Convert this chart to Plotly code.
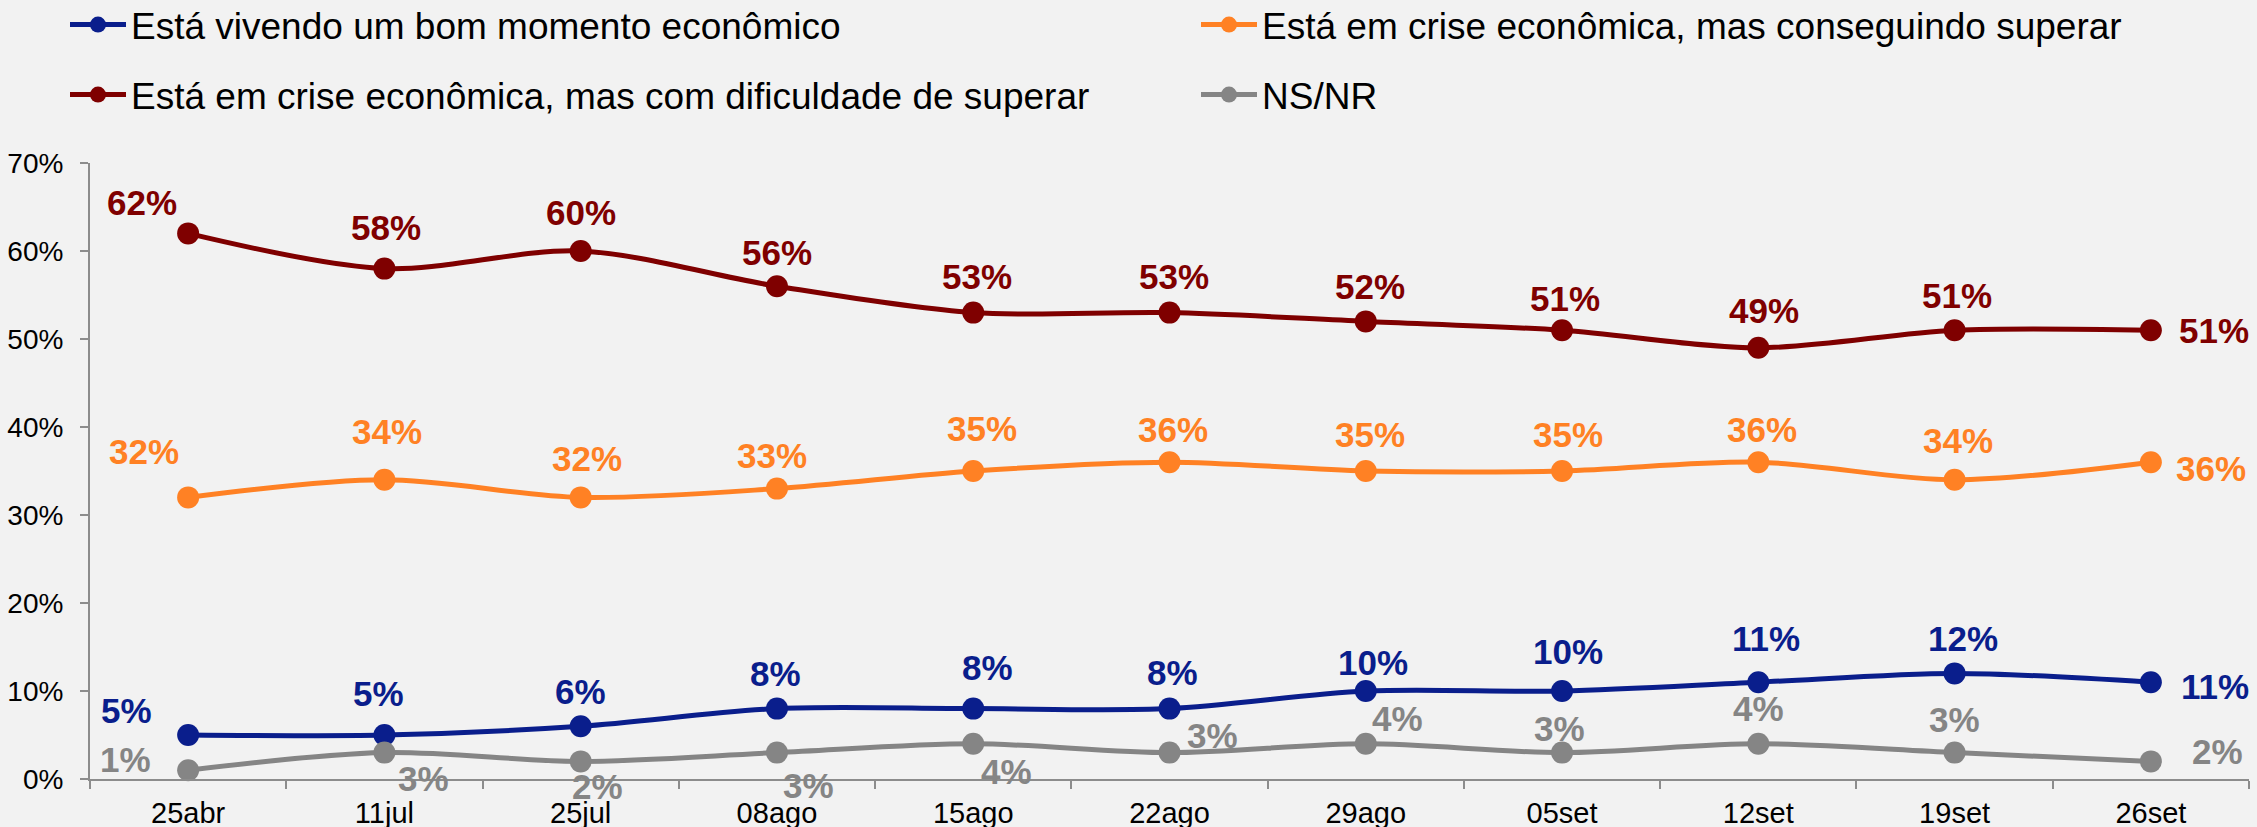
import plotly.graph_objects as go

# Survey rounds
rounds = ["25abr", "11jul", "25jul", "08ago", "15ago", "22ago",
          "29ago", "05set", "12set", "19set", "26set"]

# Share of answers per option (%)
bom_momento = [5, 5, 6, 8, 8, 8, 10, 10, 11, 12, 11]
crise_superando = [32, 34, 32, 33, 35, 36, 35, 35, 36, 34, 36]
crise_dificuldade = [62, 58, 60, 56, 53, 53, 52, 51, 49, 51, 51]
ns_nr = [1, 3, 2, 3, 4, 3, 4, 3, 4, 3, 2]

y_ticks = [0, 10, 20, 30, 40, 50, 60, 70]

BG = "#F2F2F2"
AXIS = "#8C8C8C"
BODY_FONT = "Liberation Sans, Arial, sans-serif"
NARROW_FONT = "Liberation Sans Narrow, Arial Narrow, Liberation Sans, Arial, sans-serif"

series = [
    # name, values, colour, legend id, label shifts (px) per point
    ("Está em crise econômica, mas com dificuldade de superar", crise_dificuldade,
     "#7F0000", "legend3",
     [(-46, 31), (2, 41), (0, 39), (0, 34), (4, 36), (4, 36), (4, 35),
      (3, 32), (6, 37), (2, 35), (63, 0)]),
    ("Está em crise econômica, mas conseguindo superar", crise_superando,
     "#FF8124", "legend2",
     [(-44, 46), (3, 48), (6, 39), (-5, 33), (9, 43), (3, 33), (4, 37),
      (6, 37), (4, 33), (3, 39), (60, -6)]),
    ("Está vivendo um bom momento econômico", bom_momento,
     "#0A1E8C", "legend",
     [(-62, 25), (-6, 42), (0, 35), (-1, 35), (14, 41), (3, 36), (7, 29),
      (6, 40), (8, 44), (8, 35), (64, -4)]),
    ("NS/NR", ns_nr,
     "#858585", "legend4",
     [(-63, 11), (39, -26), (17, -25), (32, -33), (33, -28), (43, 17),
      (32, 25), (-3, 24), (0, 35), (0, 33), (67, 10)]),
]

fig = go.Figure()
annotations = []
for name, values, colour, legend_id, shifts in series:
    fig.add_trace(go.Scatter(
        x=rounds, y=values, name=name, mode="lines+markers",
        line=dict(color=colour, width=5, shape="spline", smoothing=0.9),
        marker=dict(color=colour, size=22),
        legend=legend_id, cliponaxis=False, hoverinfo="skip",
    ))
    for cat, val, (dx, dy) in zip(rounds, values, shifts):
        annotations.append(dict(
            x=cat, y=val, xref="x", yref="y", text=f"{val}%",
            showarrow=False, xshift=dx, yshift=dy,
            xanchor="center", yanchor="middle",
            font=dict(family=BODY_FONT, size=35, color=colour, weight="bold"),
        ))

W, H = 2257, 827


def legend_box(x_px, y_px):
    return dict(
        xref="container", yref="container",
        x=x_px / W, y=1 - y_px / H, xanchor="left", yanchor="middle",
        orientation="h", bgcolor="rgba(0,0,0,0)", itemwidth=56,
        font=dict(family=BODY_FONT, size=37, color="#000000"),
        itemclick=False, itemdoubleclick=False,
    )


fig.update_layout(
    width=W, height=H,
    paper_bgcolor=BG, plot_bgcolor=BG,
    margin=dict(l=90, r=8, t=163, b=48, autoexpand=False),
    showlegend=True,
    legend=legend_box(65, 25),
    legend2=legend_box(1196, 25),
    legend3=legend_box(65, 95),
    legend4=legend_box(1196, 95),
    annotations=annotations,
    xaxis=dict(
        type="category", range=[-0.5, len(rounds) - 0.5],
        automargin=False,
        showgrid=False, zeroline=False,
        showline=True, linecolor=AXIS, linewidth=2,
        ticks="outside", ticklen=8, tickwidth=2, tickcolor=AXIS,
        tickson="boundaries", ticklabelstandoff=7,
        tickfont=dict(family=BODY_FONT, size=29, color="#000000"),
    ),
    yaxis=dict(
        range=[0, 70], tickvals=y_ticks, automargin=False,
        ticktext=[f"{v}%" for v in y_ticks],
        showgrid=False, zeroline=False,
        showline=True, linecolor=AXIS, linewidth=2,
        ticks="outside", ticklen=8, tickwidth=2, tickcolor=AXIS,
        ticklabelstandoff=11,
        tickfont=dict(family=NARROW_FONT, size=28, color="#000000"),
    ),
)

fig.write_html("out.html")
